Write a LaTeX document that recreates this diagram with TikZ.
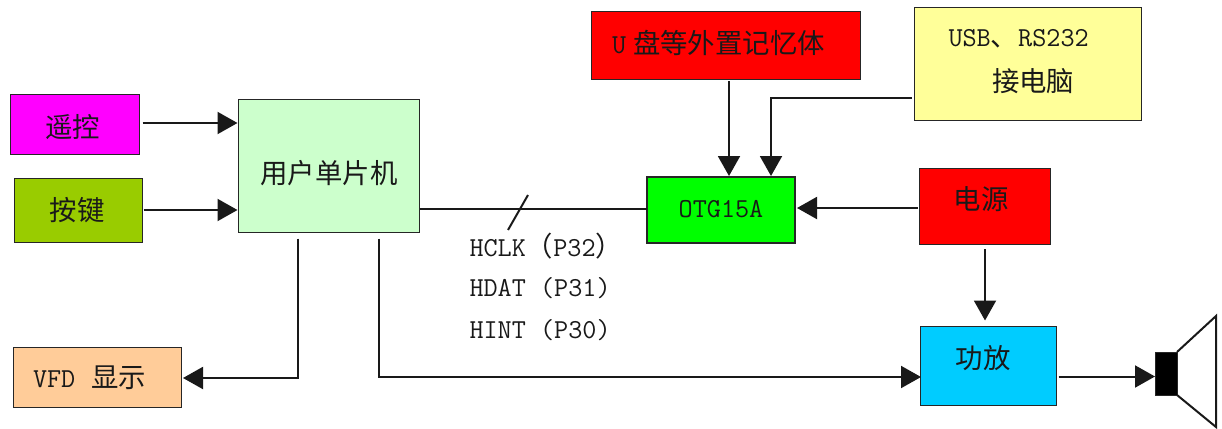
\documentclass[tikz,border=0pt]{standalone}
\usepackage{fontspec}
\newfontfamily\cjk{Noto Sans CJK SC}
\usetikzlibrary{arrows.meta,calc}
\definecolor{cmag}{HTML}{FF00FF}
\definecolor{cred}{HTML}{FF0000}
\definecolor{clime}{HTML}{00FF00}
\definecolor{cgreen}{HTML}{99CC00}
\definecolor{cmint}{HTML}{CCFFCC}
\definecolor{cpeach}{HTML}{FFCC99}
\definecolor{cyell}{HTML}{FFFF99}
\definecolor{ccyan}{HTML}{00CCFF}
\newcommand{\lat}[1]{{\ttfamily\fontsize{27.4}{30}\selectfont #1}}
\tikzset{
  box/.style={draw=black!85,line width=1pt,inner sep=0pt,outer sep=0pt},
  lab/.style={inner sep=0pt,outer sep=0pt,font=\cjk\fontsize{27.4}{30}\selectfont,text=black!90},
  wire/.style={line width=2pt,draw=black!90},
  arr/.style={wire,-{Triangle[length=20pt,width=22pt]}},
}
\begin{document}
\begin{tikzpicture}[x=1pt,y=-1pt]
\useasboundingbox (0,0) rectangle (1222,428);
% boxes
\node[box,fill=cmag,minimum width=129pt,minimum height=60pt] (yk) at (75,124.5) {};
\node[box,fill=cgreen,minimum width=128pt,minimum height=64pt] (aj) at (78.5,210.5) {};
\node[box,fill=cmint,minimum width=181pt,minimum height=133pt] (mcu) at (329,166) {};
\node[box,fill=cpeach,minimum width=168pt,minimum height=60pt] (vfd) at (97.5,377.5) {};
\node[box,fill=cred,minimum width=269pt,minimum height=67pt] (udisk) at (725.5,45.5) {};
\node[box,fill=cyell,minimum width=227pt,minimum height=112pt] (usb) at (1028,64) {};
\node[box,fill=clime,line width=2pt,minimum width=148pt,minimum height=66pt] (otg) at (721,210) {};
\node[box,fill=cred,minimum width=131pt,minimum height=76pt] (pwr) at (985,206) {};
\node[box,fill=ccyan,minimum width=136pt,minimum height=79pt] (amp) at (988.5,366) {};
\node[box,fill=black,minimum width=22pt,minimum height=43pt] (spk) at (1166,373.5) {};
% texts
\node[lab] (tyk) at (72.5,127) {遥控};
\node[lab] (taj) at (77,210) {按键};
\node[lab] (tmcu) at (329,173) {用户单片机};
\node[lab,anchor=west] (tvfd) at (33,378) {\lat{VFD\ }\hspace{2pt}显示};
\node[lab,anchor=west] (tu) at (612,43) {\lat{U}\hspace{7pt}盘等外置记忆体};
\node[lab,anchor=west] (tusb) at (948.5,39) {\lat{USB}、\lat{RS232}};
\node[lab,anchor=west] (tpc) at (992,81) {接电脑};
\node[lab] (totg) at (721,209) {\lat{OTG15A}};
\node[lab] (tpwr) at (981,199) {电源};
\node[lab] (tamp) at (983,358) {功放};
\node[lab,anchor=west] (tclk) at (469.5,246) {\lat{HCLK}（\lat{P32}）};
\node[lab,anchor=west] (tdat) at (469.5,288) {\lat{HDAT (P31)}};
\node[lab,anchor=west] (tint) at (469.5,330) {\lat{HINT (P30)}};
% connectors
\draw[arr] ([shift={(3,-1.5)}]yk.east) -- ([shift={(-1,-43)}]mcu.west);
\draw[arr] ([shift={(1,-0.5)}]aj.east) -- ([shift={(-1,44)}]mcu.west);
\draw[wire] ([shift={(0,43)}]mcu.east) -- ([shift={(0,-1)}]otg.west);
\coordinate (slashA) at (508,230);
\coordinate (slashB) at (528,195);
\draw[wire] (slashA) -- (slashB);
\draw[arr] ([shift={(-31,6)}]mcu.south) |- ([shift={(1.5,0.5)}]vfd.east);
\draw[arr] ([shift={(50,6)}]mcu.south) |- ([shift={(0.5,11)}]amp.west);
\draw[arr] ([shift={(3.5,2)}]udisk.south) -- ([shift={(8,-1)}]otg.north);
\draw[arr] ([shift={(-3,34)}]usb.west) -| ([shift={(50,-1)}]otg.north);
\draw[arr] ([shift={(-2,2)}]pwr.west) -- ([shift={(2,-2)}]otg.east);
\draw[arr] ([shift={(0,5)}]pwr.south) -- ($(amp.north -| pwr.south)+(0,-6)$);
\draw[arr] ([shift={(2,10.5)}]amp.east) -- ([shift={(0,3)}]spk.west);
% loudspeaker cone
\draw[wire] (spk.north east) -- (1216,316) -- (1216,427) -- (spk.south east);
\end{tikzpicture}
\end{document}
